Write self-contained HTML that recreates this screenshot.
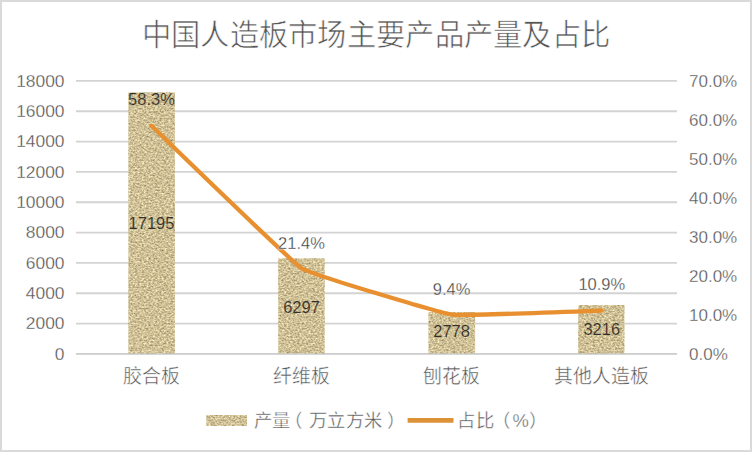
<!DOCTYPE html>
<html lang="zh-CN"><head><meta charset="utf-8">
<style>
html,body{margin:0;padding:0;background:#fff;}
body{width:752px;height:452px;position:relative;overflow:hidden;font-family:"Liberation Sans",sans-serif;}
.frame{position:absolute;left:0;top:0;width:748px;height:448px;border:2px solid #dadada;}
.t{position:absolute;white-space:nowrap;line-height:1;}
.title{left:0;width:752px;text-align:center;top:19.5px;font-size:29.3px;letter-spacing:0.26px;color:#555;-webkit-text-stroke:0.6px #fff;}
.yl{right:687.5px;font-size:17.4px;color:#4f4f4f;-webkit-text-stroke:0.3px #fff;}
.yr{left:689px;font-size:17px;color:#4f4f4f;-webkit-text-stroke:0.3px #fff;}
.cat{font-size:18.9px;color:#555;-webkit-text-stroke:0.4px #fff;text-align:center;width:150px;}
.dl{font-size:16.5px;color:#383838;text-align:center;width:80px;-webkit-text-stroke:0.3px #fff;}
.dl.on{-webkit-text-stroke:0.15px #cfbf95;color:#33302a;}
.leg{font-size:18.4px;letter-spacing:0.45px;color:#555;-webkit-text-stroke:0.4px #fff;}
svg{position:absolute;left:0;top:0;}
</style></head><body>
<div class="frame"></div>
<svg width="752" height="452" viewBox="0 0 752 452">
<defs>
<filter id="nz" filterUnits="userSpaceOnUse" x="0" y="0" width="752" height="452" color-interpolation-filters="sRGB">
<feTurbulence type="fractalNoise" baseFrequency="0.45 0.6" numOctaves="3" seed="7" result="n"/>
<feColorMatrix in="n" type="matrix" values="0.6 0 0 0 0.512  0.6 0 0 0 0.455  0.55 0 0 0 0.315  0 0 0 0 1" result="c"/>
<feComposite in="c" in2="SourceGraphic" operator="in"/>
</filter>
</defs>
<g stroke="#d3d3d3" stroke-width="1.8">
<line x1="76" x2="677" y1="80.95" y2="80.95"/>
<line x1="76" x2="677" y1="111.25" y2="111.25"/>
<line x1="76" x2="677" y1="141.65" y2="141.65"/>
<line x1="76" x2="677" y1="171.95" y2="171.95"/>
<line x1="76" x2="677" y1="202.25" y2="202.25"/>
<line x1="76" x2="677" y1="232.55" y2="232.55"/>
<line x1="76" x2="677" y1="262.95" y2="262.95"/>
<line x1="76" x2="677" y1="293.25" y2="293.25"/>
<line x1="76" x2="677" y1="323.55" y2="323.55"/>
<line x1="76" x2="677" y1="353.85" y2="353.85"/>
</g>
<g fill="#d8c592" filter="url(#nz)">
<rect x="128.3" y="92.3" width="46.6" height="261.5"/>
<rect x="278.2" y="258.2" width="46.5" height="95.6"/>
<rect x="428.4" y="312.1" width="46.7" height="41.7"/>
<rect x="578.2" y="305" width="46.3" height="48.8"/>
<rect x="206.2" y="415" width="40.8" height="11"/>
</g>
<line x1="76" x2="677" y1="353.85" y2="353.85" stroke="#c8c8c8" stroke-width="1.6" opacity="0.5"/>
<path d="M151.5,125.8 C156.8,130.8 291.0,261.6 301.5,268.2 C312.0,274.8 441.1,313.1 451.6,314.6 C462.1,316.1 596.4,310.6 601.6,310.5" fill="none" stroke="#e8902f" stroke-width="4.3" stroke-linejoin="round" stroke-linecap="round"/>
<line x1="407.6" y1="420.4" x2="453.5" y2="420.4" stroke="#de9238" stroke-width="4.6"/>
</svg>
<div class="t title">中国人造板市场主要产品产量及占比</div>

<div class="t yl" style="top:72.70px">18000</div>
<div class="t yl" style="top:103.03px">16000</div>
<div class="t yl" style="top:133.36px">14000</div>
<div class="t yl" style="top:163.69px">12000</div>
<div class="t yl" style="top:194.02px">10000</div>
<div class="t yl" style="top:224.35px">8000</div>
<div class="t yl" style="top:254.68px">6000</div>
<div class="t yl" style="top:285.01px">4000</div>
<div class="t yl" style="top:315.34px">2000</div>
<div class="t yl" style="top:345.67px">0</div>

<div class="t yr" style="top:72.70px">70.0%</div>
<div class="t yr" style="top:111.70px">60.0%</div>
<div class="t yr" style="top:150.70px">50.0%</div>
<div class="t yr" style="top:189.70px">40.0%</div>
<div class="t yr" style="top:228.70px">30.0%</div>
<div class="t yr" style="top:267.70px">20.0%</div>
<div class="t yr" style="top:306.70px">10.0%</div>
<div class="t yr" style="top:345.70px">0.0%</div>

<div class="t dl on" style="left:111.5px;top:90.5px">58.3%</div>
<div class="t dl on" style="left:111.5px;top:215px">17195</div>
<div class="t dl" style="left:261.5px;top:234.5px">21.4%</div>
<div class="t dl on" style="left:261.5px;top:298.7px">6297</div>
<div class="t dl" style="left:411.6px;top:281px">9.4%</div>
<div class="t dl on" style="left:411.6px;top:322.7px">2778</div>
<div class="t dl" style="left:561.8px;top:275.8px">10.9%</div>
<div class="t dl on" style="left:561.8px;top:321px">3216</div>

<div class="t cat" style="left:76px;top:368.3px">胶合板</div>
<div class="t cat" style="left:226px;top:368.3px">纤维板</div>
<div class="t cat" style="left:376.5px;top:368.3px">刨花板</div>
<div class="t cat" style="left:526.7px;top:368.3px">其他人造板</div>

<div class="t leg" style="left:253.5px;top:411.5px">产量<span style="position:relative;left:-6px">（</span>万立方米<span style="position:relative;left:4.5px">）</span></div>
<div class="t leg" style="left:457.2px;top:411.5px">占比<span style="position:relative;left:-2px">（</span>%）</div>
</body></html>
